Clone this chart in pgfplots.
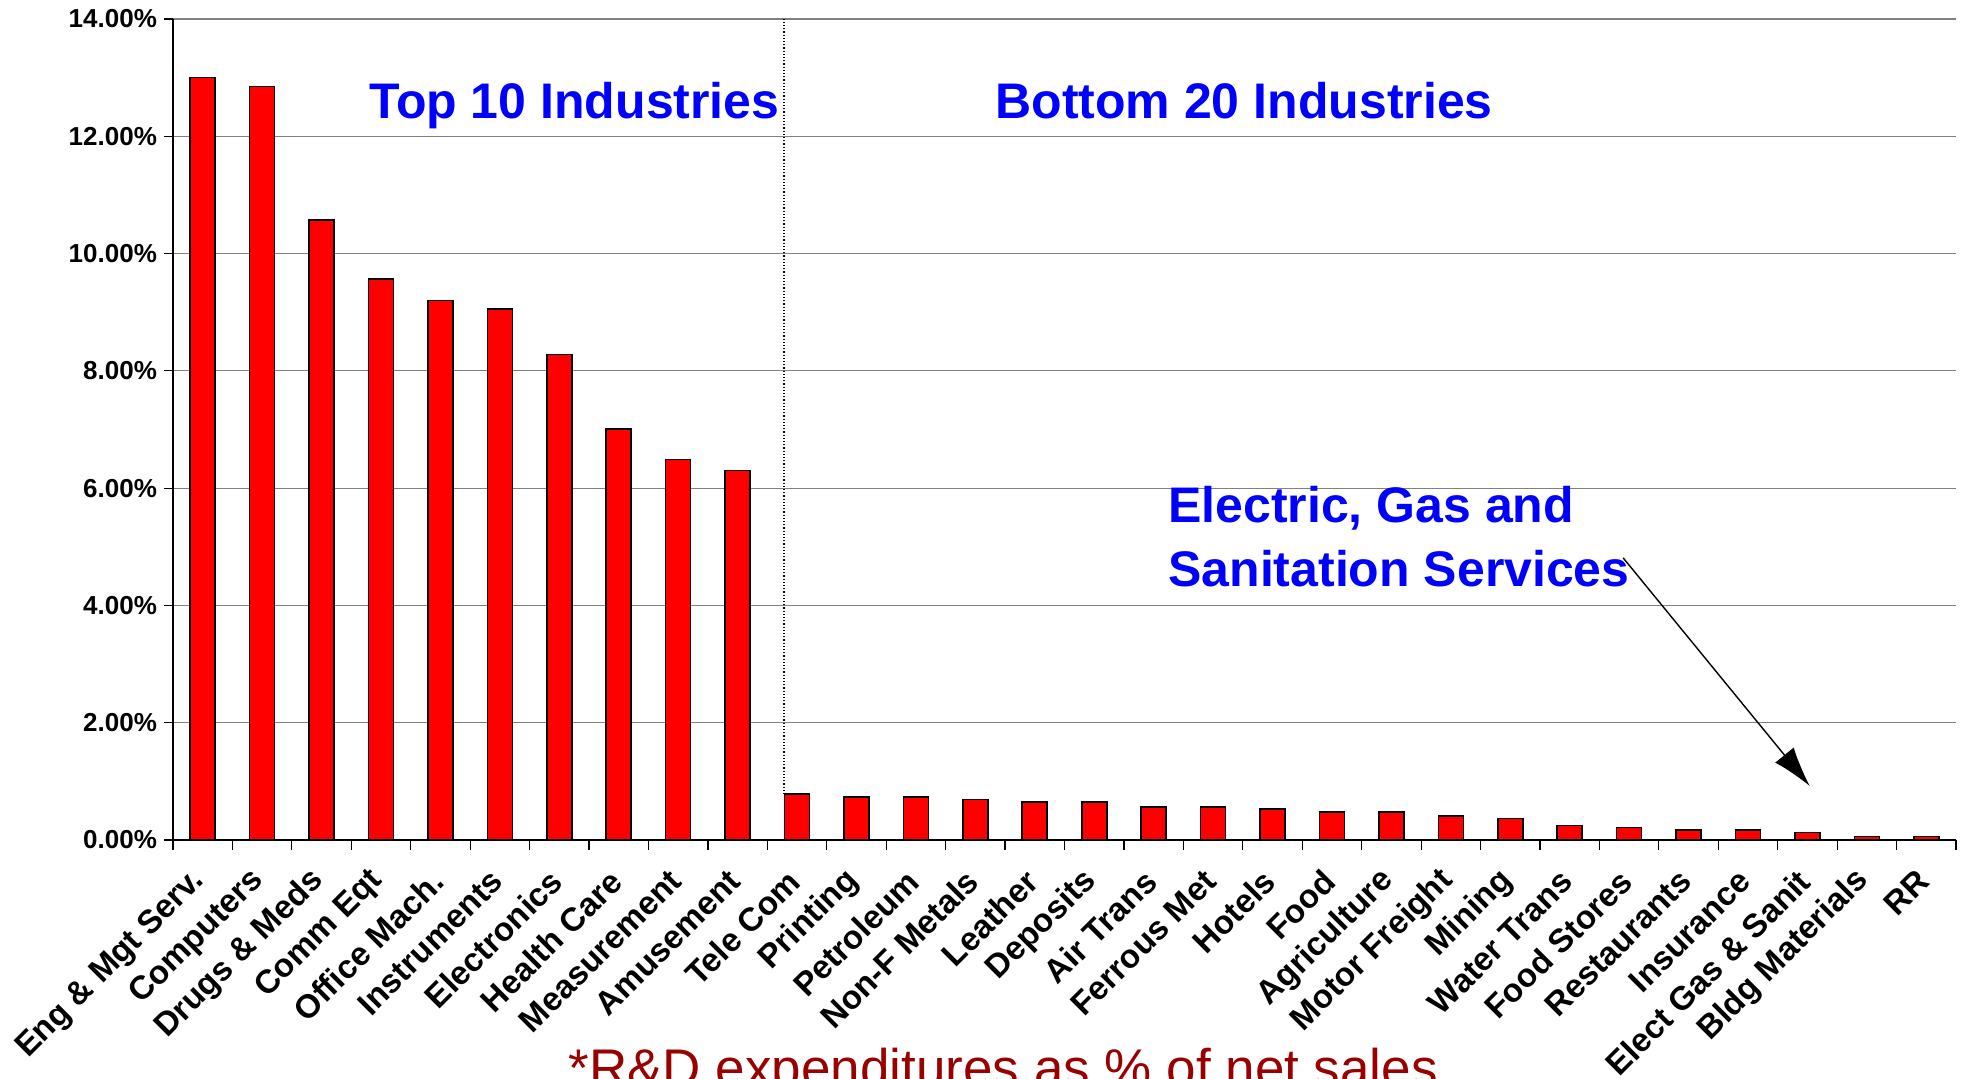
\documentclass[border=0pt]{standalone}
\usepackage{pgfplots}
\pgfplotsset{compat=1.18}
\usepackage{fontspec}
\setmainfont{Liberation Sans}
\usetikzlibrary{arrows.meta}
\definecolor{barred}{RGB}{255,0,0}
\definecolor{notered}{RGB}{153,0,0}
\definecolor{gridgray}{RGB}{128,128,128}
\begin{document}
\begin{tikzpicture}
\begin{axis}[
  scale only axis, width=891.5pt, height=410.5pt,
  xmin=-0.5, xmax=29.5, ymin=0, ymax=14,
  clip=false,
  axis lines*=left,
  axis line style={line width=0.8pt},
  ytick={0,2,...,14},
  ymajorgrids, grid style={gridgray, line width=0.6pt},
  /pgf/number format/assume math mode=true,
  yticklabel={\pgfmathprintnumber[fixed,fixed zerofill,precision=2]{\tick}\%},
  yticklabel style={font=\fontsize{13}{15}\selectfont\bfseries},
  xtick={0,...,29},
  xticklabels={Eng \& Mgt Serv., Computers, Drugs \& Meds, Comm Eqt, Office Mach., Instruments, Electronics, Health Care, Measurement, Amusement, Tele Com, Printing, Petroleum, Non-F Metals, Leather, Deposits, Air Trans, Ferrous Met, Hotels, Food, Agriculture, Motor Freight, Mining, Water Trans, Food Stores, Restaurants, Insurance, Elect Gas \& Sanit, Bldg Materials, RR},
  major x tick style={draw=none},
  minor xtick={-0.5,0.5,...,29.5},
  tick align=outside,
  major tick length=4.5pt, minor tick length=5pt,
  tick style={black, line width=0.6pt},
  xticklabel style={xshift=1pt, yshift=-11pt, rotate=45, anchor=east, font=\fontsize{16.5}{19}\selectfont\bfseries},
]
\addplot[ybar, bar width=12.5pt, fill=barred, draw=black, line width=0.8pt] coordinates {
(0,13.0) (1,12.85) (2,10.57) (3,9.57) (4,9.2) (5,9.05) (6,8.28) (7,7.01) (8,6.49) (9,6.3)
(10,0.78) (11,0.73) (12,0.73) (13,0.69) (14,0.65) (15,0.65) (16,0.56) (17,0.56) (18,0.53) (19,0.48)
(20,0.48) (21,0.41) (22,0.37) (23,0.25) (24,0.21) (25,0.17) (26,0.17) (27,0.13) (28,0.06) (29,0.06)
};
\draw[densely dotted, line width=0.6pt] (axis cs:9.78,0.78) -- (axis cs:9.78,14);
\node[anchor=base east, inner sep=0pt, text=blue, font=\fontsize{25}{30}\selectfont\bfseries] at (axis cs:9.71,12.31) {Top 10 Industries};
\node[anchor=base west, inner sep=0pt, text=blue, font=\fontsize{25}{30}\selectfont\bfseries] at (axis cs:13.33,12.31) {Bottom 20 Industries};
\node[anchor=base west, inner sep=0pt, text=blue, font=\fontsize{25}{30}\selectfont\bfseries] at (axis cs:16.24,5.41) {Electric, Gas and};
\node[anchor=base west, inner sep=0pt, text=blue, font=\fontsize{25}{30}\selectfont\bfseries] at (axis cs:16.24,4.33) {Sanitation Services};
\draw[line width=0.7pt, -{Latex[length=20pt,width=12pt]}] (axis cs:23.9,4.81) -- (axis cs:27.04,0.92);
\node[anchor=base, inner sep=0pt, text=notered, font=\fontsize{26.5}{30}\selectfont, yshift=-123pt] at (axis cs:13.47,0) {*R\&D expenditures as \% of net sales};
\end{axis}
\pgfresetboundingbox
\useasboundingbox ([xshift=-86.5pt,yshift=-119.5pt]current axis.south west) rectangle ([xshift=3.5pt,yshift=9.5pt]current axis.north east);
\end{tikzpicture}
\end{document}
